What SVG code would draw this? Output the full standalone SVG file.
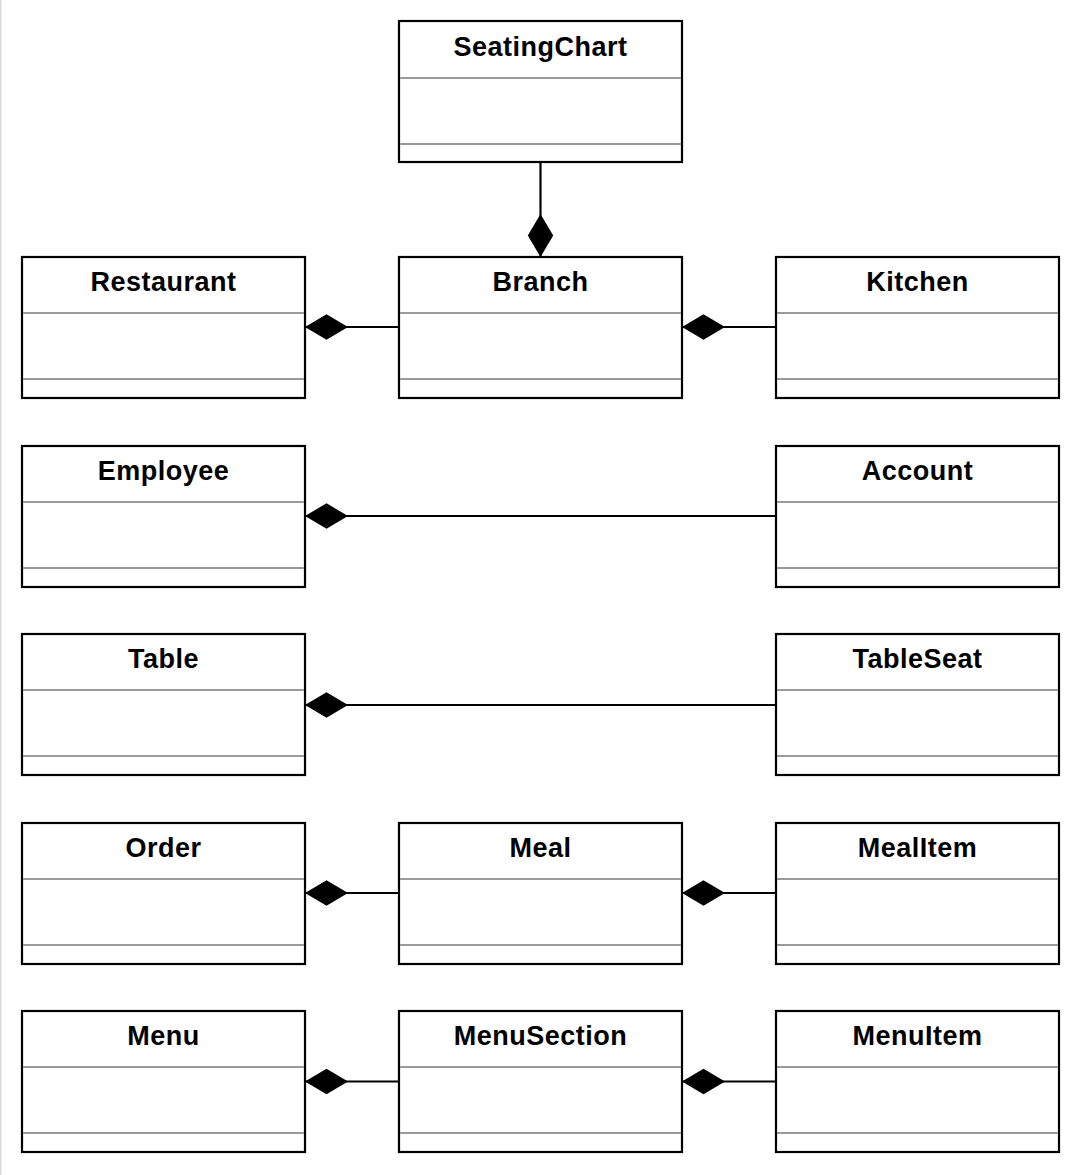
<svg xmlns="http://www.w3.org/2000/svg" width="1081" height="1175" viewBox="0 0 1081 1175">
<defs>
<style>
.box{fill:#fff;stroke:#000;stroke-width:2.2}
.sep{stroke:#9a9a9a;stroke-width:2}
.title{font-family:"Liberation Sans",Arial,Helvetica,sans-serif;font-weight:bold;font-size:27px;letter-spacing:0.5px;text-anchor:middle;fill:#000}
.conn{fill:none;stroke:#000;stroke-width:2.2;marker-start:url(#diamond)}
</style>
<marker id="diamond" markerUnits="userSpaceOnUse" markerWidth="46" markerHeight="28" refX="0" refY="13" orient="auto" viewBox="0 0 46 26">
<path d="M0,13 L21.5,0.3 L43,13 L21.5,25.7 Z" fill="#000"/>
</marker>
</defs>
<rect x="0" y="0" width="1081" height="1175" fill="#fff"/>
<rect x="0" y="0" width="1.5" height="1175" fill="#d9d9d9"/>

<g id="SeatingChart">
<rect class="box" x="399" y="21" width="283" height="141"/>
<line class="sep" x1="400" y1="78" x2="681" y2="78"/>
<line class="sep" x1="400" y1="144" x2="681" y2="144"/>
<text class="title" x="540.5" y="56">SeatingChart</text>
</g>

<g id="Restaurant">
<rect class="box" x="22" y="257" width="283" height="141"/>
<line class="sep" x1="23" y1="313" x2="304" y2="313"/>
<line class="sep" x1="23" y1="379" x2="304" y2="379"/>
<text class="title" x="163.5" y="291">Restaurant</text>
</g>
<g id="Branch">
<rect class="box" x="399" y="257" width="283" height="141"/>
<line class="sep" x1="400" y1="313" x2="681" y2="313"/>
<line class="sep" x1="400" y1="379" x2="681" y2="379"/>
<text class="title" x="540.5" y="291">Branch</text>
</g>
<g id="Kitchen">
<rect class="box" x="776" y="257" width="283" height="141"/>
<line class="sep" x1="777" y1="313" x2="1058" y2="313"/>
<line class="sep" x1="777" y1="379" x2="1058" y2="379"/>
<text class="title" x="917.5" y="291">Kitchen</text>
</g>

<g id="Employee">
<rect class="box" x="22" y="446" width="283" height="141"/>
<line class="sep" x1="23" y1="502" x2="304" y2="502"/>
<line class="sep" x1="23" y1="568" x2="304" y2="568"/>
<text class="title" x="163.5" y="480">Employee</text>
</g>
<g id="Account">
<rect class="box" x="776" y="446" width="283" height="141"/>
<line class="sep" x1="777" y1="502" x2="1058" y2="502"/>
<line class="sep" x1="777" y1="568" x2="1058" y2="568"/>
<text class="title" x="917.5" y="480">Account</text>
</g>

<g id="Table">
<rect class="box" x="22" y="634" width="283" height="141"/>
<line class="sep" x1="23" y1="690" x2="304" y2="690"/>
<line class="sep" x1="23" y1="756" x2="304" y2="756"/>
<text class="title" x="163.5" y="668">Table</text>
</g>
<g id="TableSeat">
<rect class="box" x="776" y="634" width="283" height="141"/>
<line class="sep" x1="777" y1="690" x2="1058" y2="690"/>
<line class="sep" x1="777" y1="756" x2="1058" y2="756"/>
<text class="title" x="917.5" y="668">TableSeat</text>
</g>

<g id="Order">
<rect class="box" x="22" y="823" width="283" height="141"/>
<line class="sep" x1="23" y1="879" x2="304" y2="879"/>
<line class="sep" x1="23" y1="945" x2="304" y2="945"/>
<text class="title" x="163.5" y="857">Order</text>
</g>
<g id="Meal">
<rect class="box" x="399" y="823" width="283" height="141"/>
<line class="sep" x1="400" y1="879" x2="681" y2="879"/>
<line class="sep" x1="400" y1="945" x2="681" y2="945"/>
<text class="title" x="540.5" y="857">Meal</text>
</g>
<g id="MealItem">
<rect class="box" x="776" y="823" width="283" height="141"/>
<line class="sep" x1="777" y1="879" x2="1058" y2="879"/>
<line class="sep" x1="777" y1="945" x2="1058" y2="945"/>
<text class="title" x="917.5" y="857">MealItem</text>
</g>

<g id="Menu">
<rect class="box" x="22" y="1011" width="283" height="141"/>
<line class="sep" x1="23" y1="1067" x2="304" y2="1067"/>
<line class="sep" x1="23" y1="1133" x2="304" y2="1133"/>
<text class="title" x="163.5" y="1045">Menu</text>
</g>
<g id="MenuSection">
<rect class="box" x="399" y="1011" width="283" height="141"/>
<line class="sep" x1="400" y1="1067" x2="681" y2="1067"/>
<line class="sep" x1="400" y1="1133" x2="681" y2="1133"/>
<text class="title" x="540.5" y="1045">MenuSection</text>
</g>
<g id="MenuItem">
<rect class="box" x="776" y="1011" width="283" height="141"/>
<line class="sep" x1="777" y1="1067" x2="1058" y2="1067"/>
<line class="sep" x1="777" y1="1133" x2="1058" y2="1133"/>
<text class="title" x="917.5" y="1045">MenuItem</text>
</g>

<g id="connectors">
<path class="conn" d="M540.5,257 L540.5,162"/>
<path class="conn" d="M305,327 L399,327"/>
<path class="conn" d="M682,327 L776,327"/>
<path class="conn" d="M305,516 L776,516"/>
<path class="conn" d="M305,705 L776,705"/>
<path class="conn" d="M305,893 L399,893"/>
<path class="conn" d="M682,893 L776,893"/>
<path class="conn" d="M305,1081.5 L399,1081.5"/>
<path class="conn" d="M682,1081.5 L776,1081.5"/>
</g>
</svg>
